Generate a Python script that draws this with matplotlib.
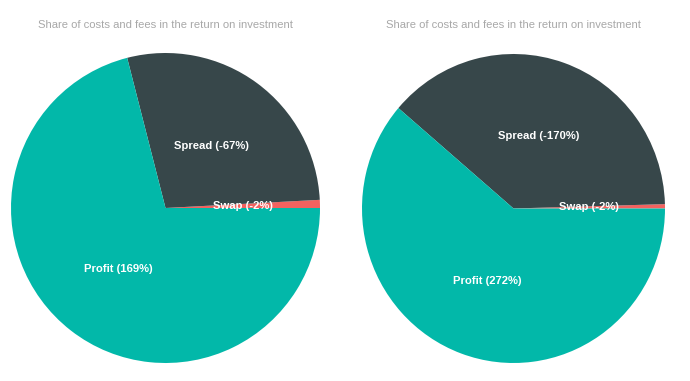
import matplotlib.pyplot as plt

# data: order counter-clockwise from 3 o'clock
labels = ['Swap', 'Spread', 'Profit']
left_vals = [2, 67, 169]
left_txt = ['-2%', '-67%', '169%']
right_vals = [2, 170, 272]
right_txt = ['-2%', '-170%', '272%']
title = 'Share of costs and fees in the return on investment'

colors = ['#f2625f', '#37474a', '#02b8a9']

W, H = 690, 381
fig = plt.figure(figsize=(W / 100, H / 100), dpi=100)


def draw(box, vals, txt):
    x0, y0, x1, y1 = box  # pixel box of the pie (top-left origin)
    ax = fig.add_axes([x0 / W, 1 - y1 / H, (x1 - x0) / W, (y1 - y0) / H])
    labs = [f'{l} ({t})' for l, t in zip(labels, txt)]
    ax.pie(vals, labels=labs, colors=colors, startangle=0, counterclock=True,
           labeldistance=0.5, radius=1,
           textprops=dict(color='white', fontsize=8.1, fontweight='bold',
                          family='Liberation Sans', ha='center', va='center'),
           wedgeprops=dict(linewidth=0))
    ax.set_aspect('auto')
    ax.set_xlim(-1, 1)
    ax.set_ylim(-1, 1)
    ax.axis('off')
    cx = (x0 + x1) / 2
    fig.text(cx / W, 1 - 24.5 / H, title, color='#a8a8a8', fontsize=8.1,
             family='Liberation Sans', ha='center', va='center')


draw((11, 53, 320, 363), left_vals, left_txt)
draw((362, 54, 665, 363), right_vals, right_txt)

fig.savefig('out.png', dpi=100)
